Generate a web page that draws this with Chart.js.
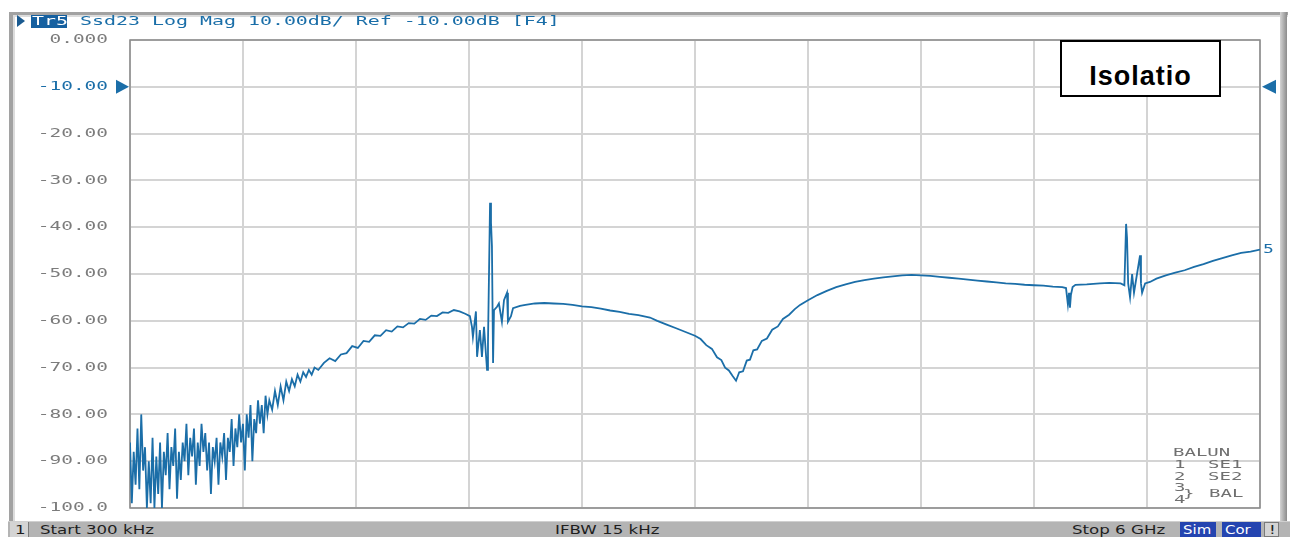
<!DOCTYPE html>
<html><head><meta charset="utf-8">
<script src="https://cdn.jsdelivr.net/npm/chart.js@4.4.0/dist/chart.umd.min.js"></script>
<style>
html,body{margin:0;padding:0;background:#fff;}
#wrap{position:relative;width:1290px;height:537px;overflow:hidden;background:#fff;}
#wrap canvas{position:absolute;left:0;top:0;}
.t{position:absolute;white-space:nowrap;transform-origin:0 50%;line-height:14px;height:14px;}
.mono{font-family:"DejaVu Sans Mono",monospace;}
.hdr{font-size:12px;color:#1a6ea8;transform:scaleX(1.66);}
.bal{font-size:10px;color:#707070;transform:scaleX(1.9);}
.st{font-family:"DejaVu Sans",sans-serif;font-size:13px;color:#1e1e1e;transform:scaleX(1.28);}
.box{position:absolute;}
</style></head>
<body>
<div id="wrap">
  <canvas id="c" width="1290" height="537"></canvas>
  <!-- window frame -->
  <div class="box" style="left:9px;top:12px;width:1279px;height:3px;background:#a2a2a2;"></div>
  <div class="box" style="left:9px;top:15px;width:1279px;height:2px;background:#dcdcdc;"></div>
  <div class="box" style="left:9px;top:12px;width:4px;height:510px;background:#a2a2a2;"></div>
  <div class="box" style="left:13px;top:15px;width:2px;height:507px;background:#dcdcdc;"></div>
  <div class="box" style="left:1280px;top:12px;width:7px;height:510px;background:linear-gradient(to right,#d4d4d4,#8c8c8c);"></div>
  <!-- header -->
  <div class="box" style="left:17px;top:15px;width:0;height:0;border-left:8px solid #1a5a90;border-top:6px solid transparent;border-bottom:6px solid transparent;"></div>
  <div class="box" style="left:31px;top:15px;width:36px;height:13px;background:#1560a0;"></div>
  <div class="t mono hdr" style="left:32px;top:14px;color:#ffffff;">Tr5</div>
  <div class="t mono hdr" style="left:80px;top:14px;">Ssd23 Log Mag 10.00dB/ Ref -10.00dB [F4]</div>
  <!-- annotation box -->
  <div class="box" style="left:1060px;top:40px;width:161px;height:57px;box-sizing:border-box;border:2px solid #000;background:#fff;">
    <span style="position:absolute;left:0;top:21px;width:100%;text-align:center;font-family:'Liberation Sans',Arial,sans-serif;font-weight:bold;font-size:27px;line-height:27px;letter-spacing:1px;color:#000;">Isolatio</span>
  </div>
  <!-- BALUN legend -->
  <div class="t mono bal" style="left:1173px;top:446px;">BALUN</div>
  <div class="t mono bal" style="left:1174px;top:458px;">1</div>
  <div class="t mono bal" style="left:1208px;top:458px;">SE1</div>
  <div class="t mono bal" style="left:1174px;top:470px;">2</div>
  <div class="t mono bal" style="left:1208px;top:470px;">SE2</div>
  <div class="t mono bal" style="left:1174px;top:481px;">3</div>
  <div class="t mono bal" style="left:1183px;top:487px;">}</div>
  <div class="t mono bal" style="left:1209px;top:487px;">BAL</div>
  <div class="t mono bal" style="left:1174px;top:493px;">4</div>
  <!-- status bar -->
  <div class="box" style="left:8px;top:521px;width:1282px;height:16px;background:#b4b4b4;border-top:1px solid #d0d0d0;box-sizing:border-box;"></div>
  <div class="box" style="left:10px;top:522px;width:19px;height:15px;background:#d4d4d4;border-right:1px solid #7a7a7a;box-sizing:border-box;"></div>
  <div class="t st" style="left:15px;top:523px;">1</div>
  <div class="t st" style="left:40px;top:523px;">Start 300 kHz</div>
  <div class="t st" style="left:555px;top:523px;">IFBW 15 kHz</div>
  <div class="t st" style="left:1072px;top:523px;">Stop 6 GHz</div>
  <div class="box" style="left:1180px;top:522px;width:36px;height:15px;background:#2444b0;"></div>
  <div class="t st" style="left:1183px;top:523px;color:#fff;transform:scaleX(1.15);">Sim</div>
  <div class="box" style="left:1222px;top:522px;width:39px;height:15px;background:#2444b0;"></div>
  <div class="t st" style="left:1225px;top:523px;color:#fff;transform:scaleX(1.15);">Cor</div>
  <div class="box" style="left:1264px;top:522px;width:15px;height:15px;background:#d4d4d4;border:1px solid #7a7a7a;box-sizing:border-box;"></div>
  <div class="t st" style="left:1269px;top:523px;">!</div>
</div>
<script>
// ---- data (frequency in MHz, S23 magnitude in dB) ----
const noiseFreq = [0.3,10,20,30,40,50,60,70,80,90,100,110,120,130,140,150,160,170,180,190,200,210,220,230,240,250,260,270,280,290,300,310,320,330,340,350,360,370,380,390,400,410,420,430,440,450,460,470,480,490,500,510,520,530,540,550,560,570,580,590,600,610,620,630,640,650,660,670,680,690,700,710,720,730,740];
const noiseDb = [-86,-99,-88,-95,-83,-96,-80,-92,-87,-100,-90,-99,-85,-100,-89,-97,-86,-100,-88,-93,-84,-96,-87,-91,-83,-98,-88,-94,-86,-90,-82,-93,-85,-89,-83,-95,-86,-91,-82,-88,-84,-92,-86,-97,-87,-90,-85,-95,-86,-89,-84,-94,-85,-88,-81,-91,-83,-87,-80,-86,-82,-92,-80,-85,-78,-90,-81,-84,-77,-82,-78,-84,-76,-80,-77];
const riseFreq = [755,770,785,800,815,830,845,860,875,890,905,920,935,950,965,980,1000,1030,1060,1090,1120,1150,1180,1210,1240,1270,1300,1330,1360,1390,1420,1450,1480,1510,1540,1570,1600,1630,1660,1690,1720,1750,1780];
const riseDb = [-79,-75,-78,-74,-77,-73,-75,-72.5,-74,-71.5,-73,-71,-72,-70.5,-71.5,-70,-70.5,-69,-68.0,-68.6,-67.2,-66.9,-65.4,-65.8,-64.3,-64.5,-63.1,-63.2,-62.0,-62.3,-61.2,-61.4,-60.5,-60.6,-59.6,-59.8,-58.9,-59.0,-58.2,-58.3,-57.7,-58.0,-58.5];
const res1Freq = [1805,1816,1821,1837,1843,1858,1869,1880,1896,1901,1912,1917,1922,1928,1933,1949,1959,1975,1986,2002,2007,2023,2034,2071];
const res1Db = [-59,-61.3,-63.5,-58,-67.7,-62,-67.7,-61.3,-70.5,-64.7,-34.8,-39,-44,-69,-57.7,-57,-56.3,-60.2,-55.6,-54,-60.2,-59,-57.3,-56.8];
const notchFreq = [2100,2150,2200,2250,2300,2350,2400,2450,2500,2550,2600,2650,2700,2761,2800,2850,2900,2950,3000,3030,3060,3090,3117,3140,3160,3180,3200,3218,3235,3255,3275,3292,3310,3330,3355,3382,3410,3440,3467,3500,3530,3558];
const notchDb = [-56.6,-56.3,-56.2,-56.3,-56.4,-56.6,-56.9,-57.1,-57.4,-57.8,-58.1,-58.5,-58.8,-59.3,-60,-60.8,-61.6,-62.4,-63.2,-63.9,-65.2,-66.0,-67.8,-68.4,-70.0,-70.6,-71.8,-72.8,-71.0,-70.8,-68.5,-68.3,-66.3,-66.1,-64.3,-63.8,-61.9,-61.2,-59.6,-58.7,-57.5,-56.6];
const humpFreq = [3600,3650,3700,3750,3800,3850,3900,3950,4000,4050,4100,4150,4200,4250,4300,4350,4400,4450,4500,4550,4600,4650,4700,4750,4800,4850,4900,4950];
const humpDb = [-55.6,-54.5,-53.6,-52.8,-52.2,-51.7,-51.3,-51,-50.7,-50.5,-50.3,-50.2,-50.3,-50.4,-50.6,-50.8,-51,-51.2,-51.4,-51.6,-51.8,-52,-52.1,-52.3,-52.4,-52.5,-52.7,-52.8];
const tailFreq = [4970,4980,4986,4991,4996,5005,5020,5080,5150,5200,5260,5280,5289,5294,5300,5310,5321,5331,5347,5363,5368,5374,5390,5416,5450,5500,5550,5600,5650,5700,5750,5800,5850,5900,5950,6000];
const tailDb = [-53,-56.5,-54,-57.2,-54.5,-52.8,-52.3,-52.2,-52,-51.9,-52,-52.4,-39.3,-42.3,-52,-55,-50,-54,-50,-46,-52,-54,-52,-51.7,-51,-50.3,-49.7,-49.2,-48.5,-47.9,-47.2,-46.6,-46,-45.5,-45.2,-44.8];

const startMHz = 0.3, stopMHz = 6000;
const yMin = -100, yMax = 0, yStep = 10, refLevel = -10;
const traceLabel = "5";

const freqs = [].concat(noiseFreq, riseFreq, res1Freq, notchFreq, humpFreq, tailFreq);
const dbs = [].concat(noiseDb, riseDb, res1Db, notchDb, humpDb, tailDb);
const points = freqs.map((f, i) => ({x: f, y: dbs[i]}));

const TRACE = '#1b6ea8';
const fmtY = v => v === 0 ? '0.000' : (v <= -100 ? v.toFixed(1) : v.toFixed(2));

const vnaPlugin = {
  id: 'vna',
  beforeDatasetsDraw(chart) {
    const {ctx, chartArea: a, scales: {y}} = chart;
    ctx.save();
    ctx.strokeStyle = '#8a8a8a';
    ctx.lineWidth = 1.5;
    ctx.strokeRect(a.left, a.top, a.right - a.left, a.bottom - a.top);
    // y tick labels (wide VNA-style glyphs)
    ctx.font = '12.3px "DejaVu Sans Mono"';
    ctx.textAlign = 'right';
    ctx.textBaseline = 'middle';
    y.ticks.forEach(t => {
      const py = y.getPixelForValue(t.value);
      ctx.save();
      ctx.translate(a.left - 22, py);
      ctx.scale(1.58, 1);
      ctx.fillStyle = t.value === refLevel ? TRACE : '#7c7c7c';
      ctx.fillText(fmtY(t.value), 0, 0);
      ctx.restore();
    });
    ctx.restore();
  },
  afterDatasetsDraw(chart) {
    const {ctx, chartArea: a, scales: {y}} = chart;
    const yr = y.getPixelForValue(refLevel);
    ctx.save();
    ctx.fillStyle = TRACE;
    ctx.beginPath();
    ctx.moveTo(a.left - 14, yr - 7); ctx.lineTo(a.left - 1, yr); ctx.lineTo(a.left - 14, yr + 7); ctx.closePath(); ctx.fill();
    ctx.beginPath();
    ctx.moveTo(a.right + 16, yr - 7); ctx.lineTo(a.right + 2, yr); ctx.lineTo(a.right + 16, yr + 7); ctx.closePath(); ctx.fill();
    const meta = chart.getDatasetMeta(0);
    const last = meta.data[meta.data.length - 1];
    ctx.translate(a.right + 3, last.y);
    ctx.scale(1.5, 1);
    ctx.font = '12px "DejaVu Sans Mono"';
    ctx.textBaseline = 'middle';
    ctx.textAlign = 'left';
    ctx.fillText(traceLabel, 0, 0);
    ctx.restore();
  }
};

new Chart(document.getElementById('c'), {
  type: 'line',
  data: {datasets: [{data: points, borderColor: TRACE, borderWidth: 1.8, pointRadius: 0, tension: 0, fill: false}]},
  options: {
    responsive: false,
    animation: false,
    events: [],
    layout: {padding: {left: 0, top: 40, right: 30, bottom: 29}},
    plugins: {legend: {display: false}, tooltip: {enabled: false}},
    scales: {
      x: {
        type: 'linear', min: startMHz, max: stopMHz,
        afterBuildTicks: s => {
          const t = [];
          for (let i = 0; i <= 10; i++) t.push({value: startMHz + (stopMHz - startMHz) * i / 10});
          s.ticks = t;
        },
        afterFit: s => { s.height = 0; },
        ticks: {display: false},
        grid: {color: '#d4d4d4', lineWidth: 2, drawTicks: false},
        border: {display: false}
      },
      y: {
        min: yMin, max: yMax,
        afterFit: s => { s.width = 130; },
        ticks: {stepSize: yStep, display: false, callback: fmtY},
        grid: {color: '#d4d4d4', lineWidth: 2, drawTicks: false},
        border: {display: false}
      }
    }
  },
  plugins: [vnaPlugin]
});
</script>
</body></html>
